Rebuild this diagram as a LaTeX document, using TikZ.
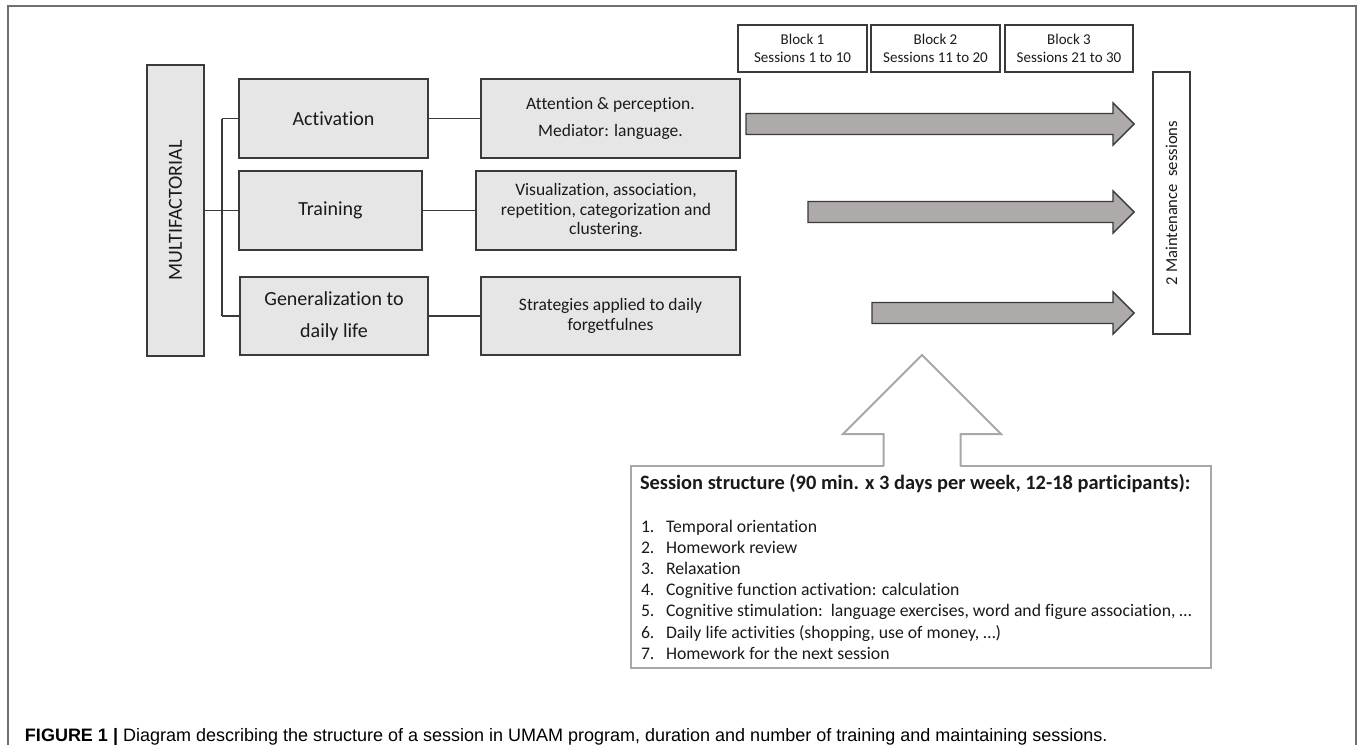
\documentclass[tikz,border=0pt]{standalone}
\usepackage{fontspec}
\setmainfont{Carlito}[Ligatures=NoCommon]
\newfontfamily\capfont{Liberation Sans}
\definecolor{boxfill}{HTML}{E6E6E6}
\definecolor{boxline}{HTML}{3A3A3A}
\definecolor{arrfill}{HTML}{AEAAAA}
\definecolor{paleline}{HTML}{A8A8A8}
\definecolor{framec}{HTML}{707070}
\definecolor{txt}{HTML}{1A1A1A}
\begin{document}
\begin{tikzpicture}[x=0.5pt,y=-0.5pt,
  every node/.style={text=txt, inner sep=0pt, outer sep=0pt},
  gbox/.style={draw=boxline, fill=boxfill, line width=0.75pt, align=center},
  wbox/.style={draw=boxline, fill=white, line width=0.65pt, align=center},
  big/.style={font=\fontsize{10}{16}\selectfont},
  mid/.style={font=\fontsize{8.75}{9.6}\selectfont},
  item/.style={font=\fontsize{8.85}{10}\selectfont},
  small/.style={font=\fontsize{7.5}{9}\selectfont},
  conn/.style={draw=boxline, line width=0.6pt},
  barrow/.style={draw=boxline, fill=arrfill, line width=0.7pt, line join=miter},
  framel/.style={draw=framec, line width=0.9pt}
]
\useasboundingbox (0,0) rectangle (1358,744);
% outer frame
\draw[framel] (8,760) -- (8,6) -- (1356,6) -- (1356,760);

% left column
\node[gbox, minimum width=28.5pt, minimum height=145.5pt, big] (multi) at (175.5,210.5) {\rotatebox{90}{MULTIFACTORIAL}};
\node[gbox, minimum width=94.5pt, minimum height=39.5pt, big] (act) at (333.5,118.5) {Activation};
\node[gbox, minimum width=91.5pt, minimum height=39.5pt, big] (train) at (330.5,210.5) {Training};
\node[gbox, minimum width=94pt, minimum height=39pt, big] (gen) at (334,316) {Generalization to\\daily life};

% middle column
\node[gbox, minimum width=129.5pt, minimum height=39.5pt, font=\fontsize{8.75}{13.5}\selectfont] (att) at (610.5,118.5) {Attention \& perception.\\Mediator: language.};
\node[gbox, minimum width=130pt, minimum height=39.5pt, mid] (vis) at (606,210.5) {Visualization, association,\\repetition, categorization and\\clustering.};
\node[gbox, minimum width=129.5pt, minimum height=39pt, mid] (strat) at (610.5,316) {Strategies applied to daily\\forgetfulnes};

% connectors
\coordinate (jt) at (222,118.5);
\coordinate (jb) at (222,316);
\draw[conn] (multi.east) -- (train.west);
\draw[conn] (jt) -- (jb);
\draw[conn] (jt) -- (act.west);
\draw[conn] (jb) -- (gen.west);
\draw[conn] (act.east) -- (att.west);
\draw[conn] (train.east) -- (vis.west);
\draw[conn] (gen.east) -- (strat.west);

% blocks
\node[wbox, minimum width=64.5pt, minimum height=23.5pt, small] (b1) at (802.5,48.5) {Block 1\\Sessions 1 to 10};
\node[wbox, minimum width=64.5pt, minimum height=23.5pt, small] (b2) at (935.5,48.5) {Block 2\\Sessions 11 to 20};
\node[wbox, minimum width=64pt, minimum height=23.5pt, small] (b3) at (1069,48.5) {Block 3\\Sessions 21 to 30};
\node[wbox, minimum width=18.5pt, minimum height=131pt, font=\fontsize{8.3}{10}\selectfont] (maint) at (1171.5,203) {\rotatebox{90}{2 Maintenance\ \ sessions}};

% block arrows
\newcommand{\blkarrow}[2]{%
  \draw[barrow] (#1,#2-10.5) -- (1113,#2-10.5) -- (1113,#2-21) -- (1134,#2) -- (1113,#2+21) -- (1113,#2+10.5) -- (#1,#2+10.5) -- cycle;}
\blkarrow{746}{124}
\blkarrow{808}{212}
\blkarrow{872}{313}

% session structure box
\node[draw=paleline, fill=white, line width=1pt, minimum width=289.75pt, minimum height=101pt] (sess) at (920.75,567) {};
\fill[white] (884,468) -- (884,434) -- (843,434) -- (922,355) -- (1001,434) -- (960,434) -- (960,468) -- cycle;
\draw[draw=paleline, line width=1pt, line join=miter] (883.5,466) -- (883.5,434) -- (843,434) -- (922,355) -- (1001,434) -- (960.5,434) -- (960.5,466);

\node[anchor=base west, font=\bfseries\fontsize{10.2}{12}\selectfont] (stitle) at (640,489) {Session structure (90 min. x 3 days per week, 12-18 participants):};
\foreach \n/\t [count=\i from 0] in {1/Temporal orientation, 2/Homework review, 3/Relaxation, 4/Cognitive function activation: calculation, 5/{Cognitive stimulation:\ \ language exercises, word and figure association, …}, 6/{Daily life activities (shopping, use of money, …)}, 7/Homework for the next session}{
  \node[anchor=base west, item] (num\n) at (641,{532+21.2*\i}) {\n.};
  \node[anchor=base west, item] (item\n) at (666,{532+21.2*\i}) {\t};
}

% caption
\node[anchor=base west, font=\capfont\fontsize{9}{11}\selectfont, text=black] (cap) at (25,741.5) {\textbf{FIGURE 1 |} Diagram describing the structure of a session in UMAM program, duration and number of training and maintaining sessions.};
\end{tikzpicture}
\end{document}
